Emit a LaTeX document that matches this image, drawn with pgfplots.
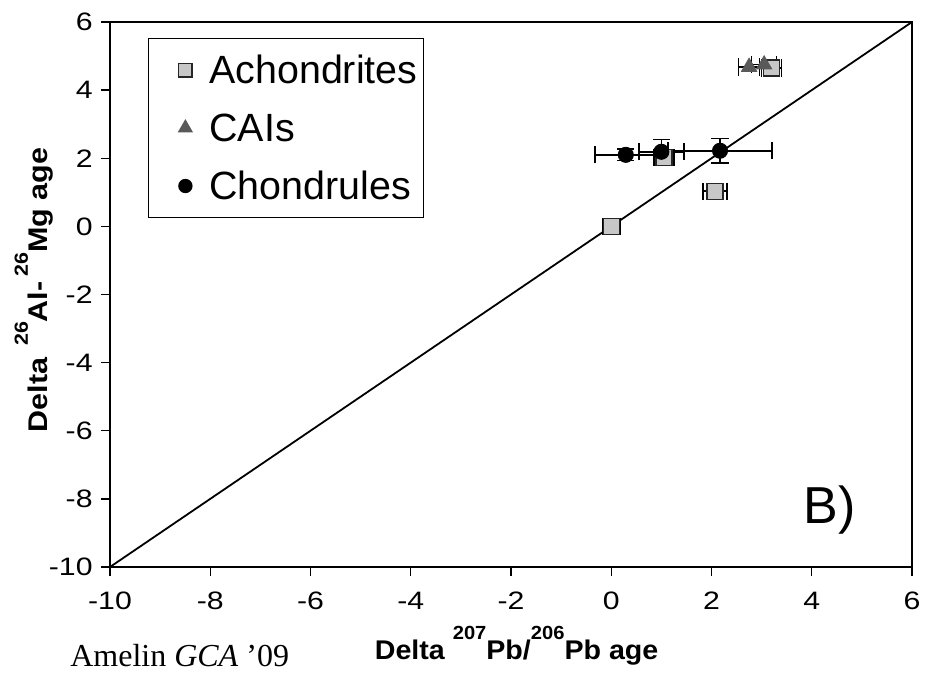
\documentclass[border=0pt]{standalone}
\usepackage{fontspec}
\setmainfont{Liberation Sans}
\newfontfamily\serifnote{Liberation Serif}
\usepackage{graphicx}
\usepackage{pgfplots}
\pgfplotsset{compat=1.18}

% x, y, x error, y error for each group
\pgfplotstableread{
x     y     ex    ey
0.00  0.00  0.17  0.00
2.07  1.03  0.24  0.00
1.05  2.03  0.20  0.00
3.20  4.65  0.20  0.00
}\achondrites
\pgfplotstableread{
x     y     ex    ey
2.75  4.68  0.21  0.00
3.05  4.75  0.25  0.00
}\cais
\pgfplotstableread{
x     y     ex    ey
0.29  2.10  0.62  0.17
1.00  2.19  0.45  0.36
2.17  2.22  1.04  0.36
}\chondrules

\newcommand{\sups}[1]{\raisebox{10pt}{\fontsize{9.5}{10}\selectfont #1}}
\newcommand{\ticktext}[1]{\scalebox{1.2}[1]{#1}}

\begin{document}
\begin{tikzpicture}
\begin{axis}[
  scale only axis,
  width=401pt, height=272.5pt,
  xmin=-10, xmax=6, ymin=-10, ymax=6,
  xtick={-10,-8,...,6}, ytick={-10,-8,...,6},
  tick align=outside, xtick pos=left, ytick pos=left,
  major tick length=4.5pt,
  tick style={black, line width=0.7pt},
  axis line style={black, line width=0.7pt},
  tick label style={font=\fontsize{12.6}{14}\selectfont},
  /pgf/number format/assume math mode=true,
  xticklabel={\ticktext{\pgfmathprintnumber{\tick}}},
  yticklabel={\ticktext{\pgfmathprintnumber{\tick}}},
  xticklabel style={anchor=north, inner sep=0pt, yshift=-8pt},
  yticklabel style={anchor=east, inner sep=0pt, xshift=-4pt},
  xlabel={\scalebox{1.06}[1]{\fontsize{13.5}{15}\selectfont\bfseries Delta \sups{207}Pb/\sups{206}Pb age}},
  ylabel={\scalebox{1.13}[1]{\fontsize{13.5}{15}\selectfont\bfseries Delta\hspace{1.5pt} \sups{26}Al-\hspace{2pt}\sups{26}Mg age}},
  every axis x label/.style={at={(axis description cs:0.507,0)}, anchor=base, yshift=-46pt},
  every axis y label/.style={at={(axis description cs:0,0.508)}, xshift=-31pt, rotate=90, anchor=base},
  clip=false,
  legend style={at={(0.047,0.971)}, anchor=north west, draw=black,
    line width=0.7pt, font=\fontsize{19.7}{22}\selectfont,
    row sep=15.5pt, inner xsep=1pt, inner ysep=9pt,
    nodes={text height=13.5pt, text depth=0pt, inner ysep=0pt},
    cells={anchor=west}},
  legend cell align=left,
  legend image code/.code={\path[draw=none, fill=none] (0,0) -- (27.5pt,0);
    \draw[#1, every mark/.append style={scale=0.85}] plot coordinates {(17.5pt,0pt)};},
  error bars/error bar style={black, line width=0.8pt},
  error bars/error mark options={rotate=90, mark size=4.3pt, line width=0.8pt, black},
]
\addplot[black, line width=0.9pt, forget plot] coordinates {(-10,-10) (6,6)};

\addplot[only marks, mark=square*, mark size=4pt,
  mark options={fill=black!22, draw=black!85, line width=0.7pt},
  error bars/.cd, x dir=both, x explicit, y dir=both, y explicit]
  table[x=x, y=y, x error=ex, y error=ey] {\achondrites};
\addlegendentry{Achondrites}

\addplot[only marks, mark=triangle*, mark size=4.4pt,
  mark options={fill=black!65, draw=black!65},
  error bars/.cd, x dir=both, x explicit, y dir=both, y explicit]
  table[x=x, y=y, x error=ex, y error=ey] {\cais};
\addlegendentry{CAIs}

\addplot[only marks, mark=*, mark size=3.8pt,
  mark options={fill=black, draw=black},
  error bars/.cd, x dir=both, x explicit, y dir=both, y explicit]
  table[x=x, y=y, x error=ex, y error=ey] {\chondrules};
\addlegendentry{Chondrules}

\node[font=\fontsize{26}{30}\selectfont] at (axis cs:4.36,-8.33) {B)};
\node[anchor=west, font=\serifnote\fontsize{16}{18}\selectfont, inner sep=0pt]
  at (rel axis cs:-0.05,-0.162) {Amelin \textit{GCA} ’09};
\end{axis}
\path[use as bounding box] (-55pt,-53.5pt) rectangle (410pt,283.5pt);
\end{tikzpicture}
\end{document}
